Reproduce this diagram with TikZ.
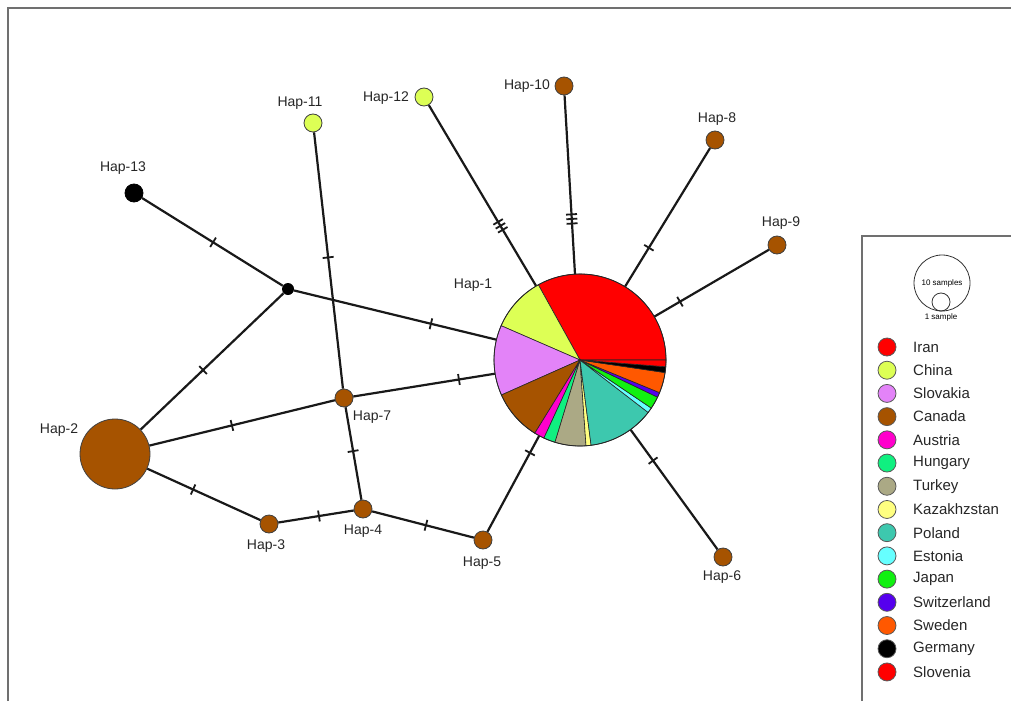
\documentclass[tikz,border=0pt]{standalone}
\usepackage{fontspec}
\setmainfont{Liberation Sans}
\definecolor{iran}{HTML}{FF0000}
\definecolor{china}{HTML}{DDFF55}
\definecolor{slovakia}{HTML}{E383F8}
\definecolor{canada}{HTML}{A65300}
\definecolor{austria}{HTML}{FF00CC}
\definecolor{hungary}{HTML}{10F080}
\definecolor{turkey}{HTML}{ABA985}
\definecolor{kazakh}{HTML}{FFFF80}
\definecolor{poland}{HTML}{3DC8AE}
\definecolor{estonia}{HTML}{66FFFF}
\definecolor{japan}{HTML}{11F011}
\definecolor{switz}{HTML}{5500EE}
\definecolor{sweden}{HTML}{FF5800}
\definecolor{germany}{HTML}{000000}
\definecolor{slovenia}{HTML}{FF0000}
\definecolor{framegray}{HTML}{707070}
\newcommand{\hapTick}{\rule{1.8pt}{11pt}}
\newcommand{\hapTriple}{\rule{1.8pt}{11pt}\hspace{2.8pt}\rule{1.8pt}{11pt}\hspace{2.8pt}\rule{1.8pt}{11pt}}
\begin{document}
\begin{tikzpicture}[x=1pt,y=-1pt,
  hap/.style={circle, draw=black!75, line width=0.8pt, fill=canada, inner sep=0pt, minimum size=18pt},
  edge/.style={line width=2.2pt, draw=black!90},
  tk/.style={sloped, inner sep=0pt, outer sep=0pt, minimum size=0pt, text=black!90},
  lab/.style={font=\fontsize{14}{16}\selectfont, text=black!85, inner sep=0pt},
  leg/.style={circle, draw=black!65, line width=0.8pt, inner sep=0pt, minimum size=18pt},
  legtext/.style={font=\fontsize{15}{17}\selectfont, text=black!85, inner sep=0pt, anchor=west},
  slice/.style={draw=black!85, line width=0.6pt},
  framed/.style={draw=framegray, line width=1.5pt}]
\useasboundingbox (0,0) rectangle (1011,701);
% frames
\draw[framed] (8,701) -- (8,8) -- (1011,8);
\draw[framed] (862,701) -- (862,236) -- (1011,236);

% haplotype nodes
\node[circle, inner sep=0pt, minimum size=172pt] (h1) at (580,360) {};
\node[hap, minimum size=70pt] (h2) at (115,454) {};
\node[hap] (h3) at (269,524) {};
\node[hap] (h4) at (363,509) {};
\node[hap] (h5) at (483,540) {};
\node[hap] (h6) at (723,557) {};
\node[hap] (h7) at (344,398) {};
\node[hap] (h8) at (715,140) {};
\node[hap] (h9) at (777,245) {};
\node[hap] (h10) at (564,86) {};
\node[hap, fill=china] (h11) at (313,123) {};
\node[hap, fill=china] (h12) at (424,97) {};
\node[hap, fill=black, draw=black] (h13) at (134,193) {};
\node[circle, fill=black, inner sep=0pt, minimum size=12pt] (m) at (288,289) {};

% connectors
\draw[edge] (h13) -- node[tk,pos=.505]{\hapTick} (m);
\draw[edge] (m) -- node[tk,pos=.563]{\hapTick} (h2);
\draw[edge] (m) -- node[tk,pos=.677]{\hapTick} (h1);
\draw[edge] (h2) -- node[tk,pos=.445]{\hapTick} (h7);
\draw[edge] (h7) -- node[tk,pos=.746]{\hapTick} (h1);
\draw[edge] (h11) -- node[tk,pos=.488]{\hapTick} (h7);
\draw[edge] (h7) -- node[tk,pos=.474]{\hapTick} (h4);
\draw[edge] (h2) -- node[tk,pos=.405]{\hapTick} (h3);
\draw[edge] (h3) -- node[tk,pos=.539]{\hapTick} (h4);
\draw[edge] (h4) -- node[tk,pos=.529]{\hapTick} (h5);
\draw[edge] (h5) -- node[tk,pos=.823]{\hapTick} (h1);
\draw[edge] (h1) -- node[tk,pos=.258]{\hapTick} (h6);
\draw[edge] (h1) -- node[tk,pos=.28]{\hapTick} (h8);
\draw[edge] (h1) -- node[tk,pos=.223]{\hapTick} (h9);
\draw[edge] (h1) -- node[tk,pos=.332]{\hapTriple} (h12);
\draw[edge] (h1) -- node[tk,pos=.308]{\hapTriple} (h10);

% pie of Hap-1
\foreach \a/\b/\c in {0/119/iran, 119/156.5/china, 156.5/204/slovakia, 204/238.3/canada,
  238.3/245.2/austria, 245.2/253.1/hungary, 253.1/274/turkey, 274/277.4/kazakh,
  277.4/322.4/poland, 322.4/326/estonia, 326/334.4/japan, 334.4/337.7/switz,
  337.7/351.6/sweden, 351.6/355.5/germany, 355.5/360/slovenia}
  \filldraw[slice, fill=\c] (h1.center) -- ++(-\a:86) arc[start angle=-\a, end angle=-\b, radius=86] -- cycle;
\draw[draw=black!85, line width=0.8pt] (h1.center) circle[radius=86];

% labels
\node[lab] (l1) at (473,285) {Hap-1};
\node[lab] (l2) at (59,430) {Hap-2};
\node[lab] (l3) at (266,546) {Hap-3};
\node[lab] (l4) at (363,531) {Hap-4};
\node[lab] (l5) at (482,563) {Hap-5};
\node[lab] (l6) at (722,577) {Hap-6};
\node[lab] (l7) at (372,417) {Hap-7};
\node[lab] (l8) at (717,119) {Hap-8};
\node[lab] (l9) at (781,223) {Hap-9};
\node[lab] (l10) at (527,86) {Hap-10};
\node[lab] (l11) at (300,103) {Hap-11};
\node[lab] (l12) at (386,98) {Hap-12};
\node[lab] (l13) at (123,168) {Hap-13};

% legend scale
\node[circle, draw=black!80, line width=0.8pt, inner sep=0pt, minimum size=56pt] (s10) at (942,283) {};
\node[circle, draw=black!80, line width=0.8pt, inner sep=0pt, minimum size=18pt] (s1) at (941,302) {};
\node[font=\fontsize{8}{9}\selectfont, inner sep=0pt] (t10) at (942,283) {10 samples};
\node[font=\fontsize{8}{9}\selectfont, inner sep=0pt] (t1) at (941,317) {1 sample};

% legend entries
\foreach \n/\c [count=\i from 0] in {Iran/iran, China/china, Slovakia/slovakia, Canada/canada,
  Austria/austria, Hungary/hungary, Turkey/turkey, Kazakhzstan/kazakh, Poland/poland,
  Estonia/estonia, Japan/japan, Switzerland/switz, Sweden/sweden, Germany/germany, Slovenia/slovenia}
{
  \node[leg, fill=\c] (lc\i) at (887,347+23.21*\i) {};
  \node[legtext] (lt\i) at (913,347+23.21*\i) {\n};
}
\end{tikzpicture}
\end{document}
